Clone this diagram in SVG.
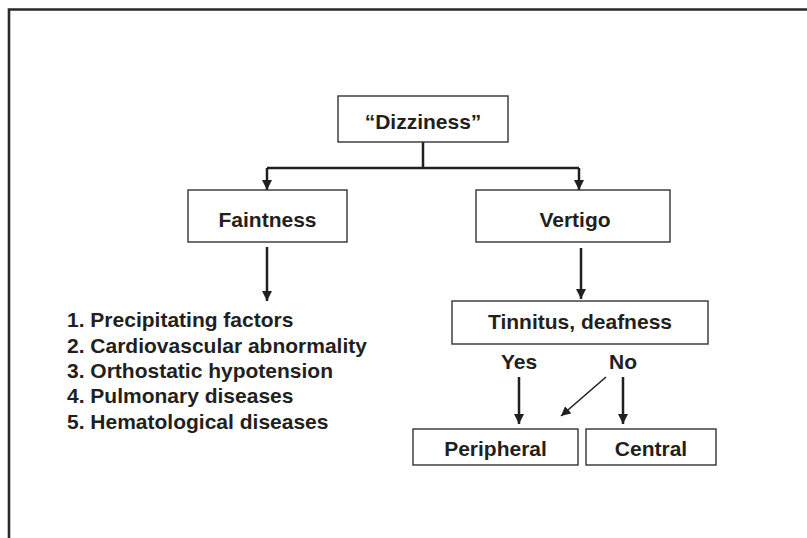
<svg xmlns="http://www.w3.org/2000/svg" width="807" height="538" viewBox="0 0 807 538">
  <defs>
    <marker id="head" viewBox="0 0 10 10" refX="10" refY="5" markerWidth="4" markerHeight="4" markerUnits="strokeWidth" orient="auto">
      <path d="M0,0 L10,5 L0,10 z" fill="#231f20"/>
    </marker>
    <marker id="headThin" viewBox="0 0 10 10" refX="10" refY="5" markerWidth="6" markerHeight="6" markerUnits="strokeWidth" orient="auto">
      <path d="M0,0 L10,5 L0,10 z" fill="#231f20"/>
    </marker>
    <style>
      .box { fill: #fff; stroke: #333; stroke-width: 1.4; }
      .lbl { font-family: "Liberation Sans", Arial, Helvetica, sans-serif; font-weight: bold; font-size: 21px; fill: #231f20; }
      .mid { text-anchor: middle; }
      .wire { fill: none; stroke: #231f20; stroke-width: 2.5; }
      .arrow { fill: none; stroke: #231f20; stroke-width: 2.5; marker-end: url(#head); }
      .thin { fill: none; stroke: #231f20; stroke-width: 1.6; marker-end: url(#headThin); }
    </style>
  </defs>

  <rect width="807" height="538" fill="#fff"/>
  <!-- outer frame (top and left edges) -->
  <path d="M9,538 V9.5 H807" fill="none" stroke="#2a2a2a" stroke-width="2.6"/>

  <g id="connectors">
    <path class="wire" d="M423,142 V168 M267,168 H579"/>
    <path class="arrow" d="M267,168 V190"/>
    <path class="arrow" d="M579,168 V190"/>
    <path class="arrow" d="M267,247 V301"/>
    <path class="arrow" d="M581,248 V299"/>
    <path class="arrow" d="M519,377 V424"/>
    <path class="arrow" d="M623,377 V424"/>
    <path class="thin" d="M606,377 L561,416"/>
  </g>

  <g id="dizziness">
    <rect class="box" x="338" y="96" width="170" height="46"/>
    <text class="lbl mid" x="423" y="129">“Dizziness”</text>
  </g>

  <g id="faintness">
    <rect class="box" x="188" y="190" width="159" height="52"/>
    <text class="lbl mid" x="267.5" y="227">Faintness</text>
  </g>

  <g id="vertigo">
    <rect class="box" x="476" y="190" width="194" height="52"/>
    <text class="lbl mid" x="575" y="227">Vertigo</text>
  </g>

  <g id="faintness-causes">
    <text class="lbl" x="67" y="327">1. Precipitating factors</text>
    <text class="lbl" x="67" y="352.5">2. Cardiovascular abnormality</text>
    <text class="lbl" x="67" y="378">3. Orthostatic hypotension</text>
    <text class="lbl" x="67" y="403">4. Pulmonary diseases</text>
    <text class="lbl" x="67" y="428.5">5. Hematological diseases</text>
  </g>

  <g id="tinnitus">
    <rect class="box" x="452" y="301" width="256" height="43"/>
    <text class="lbl mid" x="580" y="328.5">Tinnitus, deafness</text>
  </g>

  <g id="answers">
    <text class="lbl mid" x="519" y="369">Yes</text>
    <text class="lbl mid" x="623" y="369">No</text>
  </g>

  <g id="peripheral">
    <rect class="box" x="413" y="429" width="165" height="36"/>
    <text class="lbl mid" x="495.5" y="456">Peripheral</text>
  </g>

  <g id="central">
    <rect class="box" x="586" y="429" width="130" height="36"/>
    <text class="lbl mid" x="651" y="456">Central</text>
  </g>
</svg>
